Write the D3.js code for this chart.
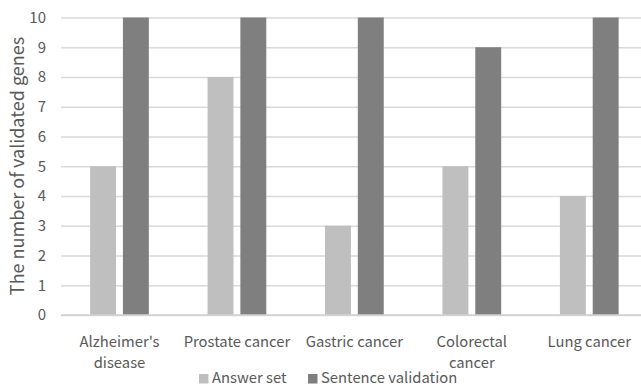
<!DOCTYPE html>
<html>
<head>
<meta charset="utf-8">
<script src="https://cdn.jsdelivr.net/npm/d3@7"></script>
<style>
  html, body { margin: 0; padding: 0; background: #fff; }
  svg { display: block; }
  text { font-family: "Noto Sans CJK KR", "Noto Sans", sans-serif; fill: #595959; }
</style>
</head>
<body>
<svg id="chart" width="641" height="387"></svg>
<script>
// Diseases on the x axis (label lines), and validated-gene counts per series
const categories = [["Alzheimer's", "disease"], ["Prostate cancer"], ["Gastric cancer"], ["Colorectal", "cancer"], ["Lung cancer"]];
const seriesNames = ["Answer set", "Sentence validation"];
const answerSet = [5, 8, 3, 5, 4];
const sentenceValidation = [10, 10, 10, 9, 10];
const yTicks = [0, 1, 2, 3, 4, 5, 6, 7, 8, 9, 10];
const colors = ["#bfbfbf", "#7f7f7f"];

const svg = d3.select("#chart");
const keys = categories.map((c, i) => i);
const values = [answerSet, sentenceValidation];

const x0 = d3.scaleBand().domain(keys).range([60.75, 648]).paddingInner(0.5).paddingOuter(0.25);
const x1 = d3.scaleBand().domain(seriesNames).range([0, x0.bandwidth()]).paddingInner(0.21);
const y = d3.scaleLinear().domain([0, 10]).range([315, 17.5]);

// horizontal gridlines
const yAxis = d3.axisLeft(y).tickValues(yTicks).tickSize(-(648 - 61)).tickPadding(15);
const gy = svg.append("g").attr("transform", "translate(61,0)").call(yAxis);
gy.select(".domain").remove();
gy.selectAll(".tick line").attr("stroke", "#d9d9d9").attr("stroke-width", 1.3);
gy.selectAll(".tick text").attr("font-size", 15).style("fill", "#595959");

// bars
const groups = svg.append("g").selectAll("g").data(keys).join("g")
  .attr("transform", d => `translate(${x0(d)},0)`);
groups.selectAll("rect")
  .data(i => seriesNames.map((s, k) => ({ s, k, v: values[k][i] })))
  .join("rect")
  .attr("x", d => x1(d.s))
  .attr("width", x1.bandwidth())
  .attr("y", d => y(d.v))
  .attr("height", d => y(0) - y(d.v))
  .attr("fill", d => colors[d.k]);

// baseline
svg.append("line").attr("x1", 61).attr("x2", 648).attr("y1", y(0)).attr("y2", y(0))
  .attr("stroke", "#d0d0d0").attr("stroke-width", 1.3);

// category labels
const lab = svg.append("g").selectAll("text").data(keys).join("text")
  .attr("x", d => x0(d) + x0.bandwidth() / 2)
  .attr("y", 347)
  .attr("text-anchor", "middle")
  .attr("font-size", 14.8);
lab.selectAll("tspan").data(d => categories[d]).join("tspan")
  .attr("x", function () { return d3.select(this.parentNode).attr("x"); })
  .attr("dy", (d, i) => i === 0 ? 0 : 21)
  .text(d => d);

// y axis title
svg.append("text")
  .attr("transform", "translate(24,166) rotate(-90)")
  .attr("text-anchor", "middle")
  .attr("font-size", 18)
  .text("The number of validated genes");

// legend
const legendX = [199, 308];
const lg = svg.append("g").selectAll("g").data(seriesNames).join("g")
  .attr("transform", (d, i) => `translate(${legendX[i]},374)`);
lg.append("rect").attr("width", 9.5).attr("height", 9.5).attr("fill", (d, i) => colors[i]);
lg.append("text").attr("x", 13).attr("y", 9).attr("font-size", 14.8).text(d => d);
</script>
</body>
</html>
